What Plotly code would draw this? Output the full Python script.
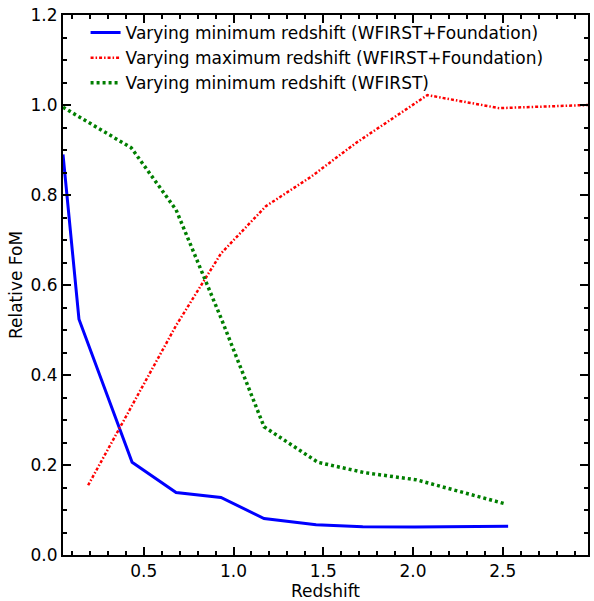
import plotly.graph_objects as go

# Data
blue_x = [0.05, 0.139, 0.435, 0.68, 0.93, 1.17, 1.46, 1.72, 2.01, 2.53]
blue_y = [0.89, 0.524, 0.206, 0.139, 0.128, 0.081, 0.067, 0.063, 0.062, 0.064]

red_x = [0.19, 0.43, 0.68, 0.93, 1.18, 1.43, 1.68, 2.08, 2.48, 2.975]
red_y = [0.155, 0.33, 0.51, 0.67, 0.775, 0.84, 0.915, 1.022, 0.993, 1.0]

green_x = [0.05, 0.43, 0.68, 0.93, 1.17, 1.47, 1.73, 2.02, 2.52]
green_y = [0.995, 0.905, 0.767, 0.527, 0.285, 0.206, 0.183, 0.167, 0.113]

names = [
    "Varying minimum redshift (WFIRST+Foundation)",
    "Varying maximum redshift (WFIRST+Foundation)",
    "Varying minimum redshift (WFIRST)",
]

x_ticks = [0.5, 1.0, 1.5, 2.0, 2.5]
y_ticks = [0.0, 0.2, 0.4, 0.6, 0.8, 1.0, 1.2]

fig = go.Figure()
fig.add_trace(go.Scatter(x=blue_x, y=blue_y, mode="lines", name=names[0],
                         line=dict(color="#0000ff", width=3)))
fig.add_trace(go.Scatter(x=red_x, y=red_y, mode="lines", name=names[1],
                         line=dict(color="#ff0000", width=2.5, dash="3px,2px,1.5px,2px")))
fig.add_trace(go.Scatter(x=green_x, y=green_y, mode="lines", name=names[2],
                         line=dict(color="#007f00", width=3.5, dash="3px,3px")))

tick_font = dict(family="DejaVu Sans", size=17, color="black")
title_font = dict(family="DejaVu Sans", size=17, color="black")

fig.update_layout(
    width=594, height=601,
    margin=dict(l=63, r=4, t=15, b=46),
    paper_bgcolor="white", plot_bgcolor="white",
    font=tick_font,
    showlegend=True,
    legend=dict(x=0.043, y=1.0, xanchor="left", yanchor="top",
                bgcolor="rgba(0,0,0,0)", font=dict(family="DejaVu Sans", size=17, color="black"),
                tracegroupgap=0),
)
fig.update_xaxes(
    range=[0.05, 2.975], tickvals=x_ticks, ticktext=[f"{v:.1f}" for v in x_ticks],
    ticks="inside", ticklen=8, tickwidth=2, tickcolor="black", tickfont=tick_font,
    showline=True, linecolor="black", linewidth=2, mirror="allticks",
    showgrid=False, zeroline=False,
    minor=dict(dtick=0.1, tick0=0, ticks="inside", ticklen=4, tickwidth=2, tickcolor="black", showgrid=False),
    title=dict(text="Redshift", font=title_font, standoff=3),
)
fig.update_yaxes(
    range=[0, 1.2], tickvals=y_ticks, ticktext=[f"{v:.1f}" for v in y_ticks],
    ticks="inside", ticklen=8, tickwidth=2, tickcolor="black", tickfont=tick_font,
    showline=True, linecolor="black", linewidth=2, mirror="allticks",
    showgrid=False, zeroline=False,
    minor=dict(dtick=0.05, tick0=0, ticks="inside", ticklen=4, tickwidth=2, tickcolor="black", showgrid=False),
    title=dict(text="Relative FoM", font=title_font, standoff=4),
)

fig.write_html("out.html")
